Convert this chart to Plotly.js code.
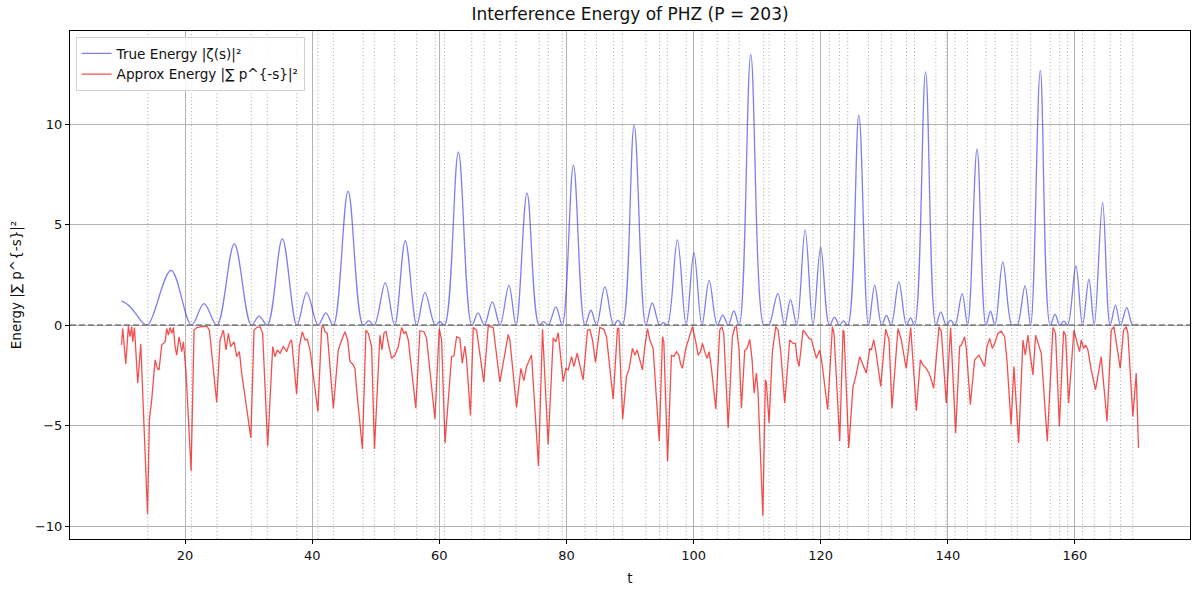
<!DOCTYPE html>
<html>
<head>
<meta charset="utf-8">
<script src="https://cdn.plot.ly/plotly-3.0.1.min.js"></script>
<style>
  html, body { margin: 0; padding: 0; background: #fff; }
  #plot { width: 1200px; height: 593px; }
</style>
</head>
<body>
<div id="plot"></div>
<script>
// zeta zeros marked by the dotted lines
var zeros = [14.1347, 21.0220, 25.0109, 30.4249, 32.9351, 37.5862, 40.9187, 43.3271,
  48.0052, 49.7738, 52.9703, 56.4462, 59.3470, 60.8318, 65.1125, 67.0798, 69.5464,
  72.0672, 75.7047, 77.1448, 79.3374, 82.9104, 84.7355, 87.4253, 88.8091, 92.4919,
  94.6513, 95.8706, 98.8312, 101.3179, 103.7255, 105.4466, 107.1686, 111.0295,
  111.8747, 114.3202, 116.2267, 118.7908, 121.3701, 122.9468, 124.2568, 127.5167,
  129.5787, 131.0877, 133.4977, 134.7565, 138.1160, 139.7362, 141.1237, 143.1118,
  146.0010, 147.4228, 150.0535, 150.9253, 153.0247, 156.1129, 157.5976, 158.8500,
  161.1890, 163.0307, 165.5371, 167.1844, 169.0945];

// true energy |zeta(s)|^2 (peaks and touch points)
var trueT = [10.0, 10.57, 11.35, 12.4, 13.19, 14.13, 17.8, 21.02, 22.98, 25.01, 27.75, 30.42,
  31.65, 32.94, 35.3, 37.59, 39.15, 40.92, 42.15, 43.33, 45.65, 48.01, 48.9, 49.77,
  51.5, 52.97, 54.65, 56.45, 57.75, 59.35, 60.1, 60.83, 63.0, 65.11, 66.1, 67.08,
  68.35, 69.55, 70.95, 72.07, 73.8, 75.7, 76.42, 77.14, 78.35, 79.34, 81.1, 82.91,
  83.85, 84.74, 86.05, 87.43, 88.12, 88.81, 90.65, 92.49, 93.5, 94.65, 95.27, 95.87,
  97.45, 98.83, 100.05, 101.32, 102.45, 103.73, 104.6, 105.45, 106.35, 107.17,
  109.0, 111.03, 111.45, 111.87, 113.25, 114.32, 115.25, 116.23, 117.55, 118.79,
  120.0, 121.37, 122.17, 122.95, 123.62, 124.26, 126.0, 127.52, 128.5, 129.58,
  130.35, 131.09, 132.3, 133.5, 134.13, 134.76, 136.5, 138.12, 138.9, 139.74,
  140.43, 141.12, 142.25, 143.11, 144.6, 146.0, 146.72, 147.42, 148.65, 150.05,
  150.5, 150.93, 152.15, 153.02, 154.55, 156.11, 156.87, 157.6, 158.27, 158.85,
  160.15, 161.19, 162.2, 163.03, 164.35, 165.54, 166.38, 167.18, 168.15, 169.09, 170.0];
var trueE = [1.19, 1.11, 0.91, 0.5, 0.17, 0, 2.72, 0, 1.07, 0, 4.04, 0,
  0.45, 0, 4.29, 0, 1.62, 0, 0.61, 0, 6.65, 0, 0.21, 0,
  2.1, 0, 4.2, 0, 1.62, 0, 0.17, 0, 8.6, 0, 0.61, 0,
  1.16, 0, 1.98, 0, 6.57, 0, 0.17, 0, 0.91, 0, 7.95, 0,
  0.74, 0, 1.9, 0, 0.25, 0, 9.95, 0, 1.1, 0, 0.12, 0,
  4.24, 0, 3.6, 0, 2.23, 0, 0.5, 0, 0.71, 0,
  13.45, 0, 0.03, 0, 1.57, 0, 1.27, 0, 4.74, 0,
  3.88, 0, 0.38, 0, 0.21, 0, 10.45, 0, 1.98, 0,
  0.48, 0, 2.15, 0, 0.36, 0, 12.6, 0, 0.66, 0,
  0.25, 0, 1.57, 0, 8.75, 0, 0.69, 0, 3.14, 0,
  0.03, 0, 1.95, 0, 12.67, 0, 0.53, 0, 0.2, 0,
  2.94, 0, 2.28, 0, 6.1, 0, 0.99, 0, 0.87, 0, 0.05];

// approximate energy (drawn negative)
var approxT = [10.0, 10.2, 10.67, 11.09, 11.35, 11.62, 11.77, 12.04, 12.56, 13.03, 14.1, 14.39,
  14.76, 15.29, 15.65, 15.91, 16.33, 16.86, 17.12, 17.38, 17.64, 17.91, 18.17, 18.43,
  18.69, 19.06, 19.48, 19.74, 20.16, 20.95, 21.42, 21.84, 22.62, 23.41, 23.83, 24.46,
  24.98, 25.51, 26.03, 26.45, 26.82, 27.18, 27.71, 28.13, 28.55, 28.91, 30.35, 30.85,
  31.27, 31.8, 32.21, 33.0, 33.79, 34.15, 34.52, 34.94, 35.46, 35.99, 36.51, 36.77,
  37.55, 37.98, 38.45, 38.87, 39.24, 39.66, 40.9, 41.49, 41.75, 42.02, 42.38, 43.33,
  44.11, 44.64, 45.16, 45.58, 45.95, 46.37, 46.73, 47.0, 47.9, 48.46, 48.83, 49.35,
  49.8, 50.66, 50.98, 51.29, 51.61, 51.97, 52.5, 53.02, 53.55, 54.07, 54.44, 54.75,
  55.12, 56.3, 56.95, 57.58, 58.0, 59.31, 59.99, 60.36, 60.9, 61.93, 62.3, 62.72,
  63.24, 63.61, 64.03, 64.29, 64.9, 65.34, 65.86, 67.0, 67.7, 68.48, 69.53, 70.84,
  71.1, 72.15, 72.83, 73.3, 73.72, 74.51, 75.6, 76.24, 77.13, 77.92, 78.34, 78.7,
  79.49, 79.91, 80.28, 80.8, 81.17, 81.69, 82.11, 82.63, 83.32, 83.68, 84.1, 84.57,
  85.25, 85.88, 86.3, 87.35, 88.03, 88.24, 88.85, 89.45, 89.87, 90.39, 90.76, 91.13,
  91.54, 91.96, 92.33, 92.75, 93.12, 93.64, 94.6, 95.11, 95.32, 95.92, 96.52, 96.89,
  97.31, 97.68, 97.94, 98.25, 98.78, 99.3, 99.83, 100.35, 100.72, 101.08, 101.4, 101.76,
  102.13, 102.45, 102.81, 103.5, 104.12, 104.44, 104.75, 105.45, 106.11, 106.48, 106.74, 107.16,
  107.53, 108.05, 108.42, 108.84, 109.21, 109.52, 109.89, 110.15, 110.9, 111.3, 111.46, 111.88,
  112.4, 112.93, 113.3, 113.71, 114.34, 115.13, 115.65, 116.02, 116.28, 116.6, 117.23, 117.65,
  118.17, 118.54, 119.06, 119.32, 119.85, 120.21, 121.1, 121.84, 122.1, 122.99, 123.52, 123.67,
  124.41, 125.09, 125.51, 126.14, 126.66, 127.18, 127.71, 127.97, 128.34, 128.65, 129.45, 130.22,
  130.75, 131.22, 132.16, 132.69, 133.21, 133.47, 134.16, 135.05, 135.68, 136.09, 136.51, 137.04,
  137.4, 137.77, 138.61, 138.98, 139.76, 140.44, 141.23, 141.86, 142.12, 142.65, 142.91, 143.54,
  144.22, 144.48, 144.9, 145.27, 145.79, 146.16, 146.58, 147.0, 147.36, 147.89, 148.41, 148.94,
  149.3, 149.95, 150.4, 151.14, 151.82, 152.19, 152.6, 152.97, 153.39, 153.81, 154.23, 154.7,
  155.65, 156.54, 156.95, 157.55, 158.21, 158.53, 159.0, 159.84, 160.31, 160.73, 160.99, 161.36,
  161.67, 162.04, 162.56, 163.24, 164.13, 165.05, 165.71, 166.13, 166.49, 167.12, 167.65, 168.07,
  168.33, 169.11, 169.64, 170.0];
var approxE = [-0.99, -0.17, -1.93, -0.05, -0.58, -0.08, -0.83, -0.12, -2.89, -0.94, -9.41, -4.7,
  -3.71, -1.73, -2.15, -2.23, -0.99, -0.83, -0.17, -0.5, -0.12, -0.41, -0.12, -1.07,
  -1.49, -0.58, -1.32, -0.83, -2.39, -7.26, -0.25, -0.12, -0.08, -0.05, -0.25, -2.06,
  -3.85, -0.74, -0.25, -1.24, -0.41, -1.07, -0.83, -1.57, -1.32, -2.39, -5.61, -0.25,
  -0.12, -0.08, -0.41, -6.02, -1.07, -1.57, -1.24, -1.4, -1.07, -1.32, -0.83, -0.74,
  -3.42, -1.07, -0.33, -0.74, -0.71, -1.24, -4.29, -0.12, -0.05, -0.33, -0.41, -4.13,
  -1.24, -0.74, -0.33, -0.74, -1.82, -1.93, -2.15, -3.22, -6.16, -0.25, -0.41, -1.07,
  -6.16, -0.5, -1.24, -0.41, -0.3, -0.91, -1.65, -1.49, -1.07, -0.12, -0.41, -0.33,
  -0.74, -4.13, -0.28, -0.33, -0.66, -4.67, -0.17, -0.74, -5.86, -1.57, -1.53, -0.58,
  -0.66, -1.9, -1.04, -1.73, -4.5, -0.12, -0.25, -2.84, -0.05, -0.12, -2.84, -0.46,
  -0.74, -4.09, -2.15, -2.76, -2.06, -1.49, -7.01, -0.21, -5.94, -0.63, -0.83, -0.38,
  -2.81, -2.15, -2.23, -1.57, -2.06, -1.4, -1.98, -2.72, -0.25, -0.21, -0.74, -1.86,
  -0.12, -0.21, -0.58, -3.68, -0.17, -0.17, -4.67, -2.56, -2.15, -1.16, -1.49, -1.24,
  -1.73, -2.23, -1.07, -0.17, -0.74, -1.16, -5.78, -0.58, -0.83, -6.77, -1.49, -1.57,
  -1.32, -1.49, -1.9, -2.15, -1.16, -0.58, -0.08, -0.83, -1.49, -1.32, -0.91, -1.32,
  -1.65, -1.32, -2.15, -4.17, -0.25, -0.08, -0.41, -5.12, -0.58, -0.12, -0.08, -1.24,
  -4.13, -1.27, -1.16, -0.71, -1.73, -3.38, -2.39, -3.38, -9.49, -2.72, -2.89, -4.87,
  -1.32, -0.08, -0.25, -1.32, -3.88, -0.74, -0.91, -0.91, -1.65, -2.06, -0.25, -0.41,
  -0.66, -0.71, -1.32, -1.65, -1.24, -1.9, -4.21, -0.08, -0.41, -5.78, -0.25, -0.33,
  -6.11, -3.05, -2.56, -1.57, -1.98, -2.39, -1.16, -1.24, -0.74, -1.24, -3.05, -0.2,
  -0.74, -4.13, -0.17, -0.74, -1.73, -2.15, -0.12, -4.26, -1.73, -1.98, -2.1, -2.39,
  -2.72, -3.14, -0.08, -0.33, -3.88, -0.12, -5.36, -1.07, -0.99, -0.58, -1.16, -3.96,
  -1.73, -1.65, -1.49, -1.73, -2.06, -1.07, -0.66, -1.16, -0.91, -0.41, -0.3, -0.58,
  -1.73, -4.95, -2.06, -5.86, -0.74, -1.49, -0.5, -1.49, -2.48, -0.5, -0.99, -1.4,
  -5.78, -0.12, -0.41, -5.03, -0.3, -0.5, -3.88, -0.25, -0.83, -1.32, -0.74, -1.16,
  -0.99, -1.24, -2.23, -3.22, -1.57, -4.79, -0.25, -0.08, -0.83, -2.15, -0.25, -0.08,
  -0.41, -4.54, -2.39, -6.11];

var xTicks = [20, 40, 60, 80, 100, 120, 140, 160];
var yTicks = [-10, -5, 0, 5, 10];

var font = '"DejaVu Sans", "Liberation Sans", sans-serif';

var plotlyData = [
  {
    type: 'scatter', mode: 'lines', name: 'True Energy |ζ(s)|²',
    x: trueT, y: trueE,
    line: {color: 'rgba(40,40,230,0.6)', width: 1.3, shape: 'spline', smoothing: 1}
  },
  {
    type: 'scatter', mode: 'lines', name: 'Approx Energy |∑ p^{-s}|²',
    x: approxT, y: approxE,
    line: {color: 'rgba(240,20,20,0.75)', width: 1.3}
  }
];

// dotted markers at the zeros, dashed zero line on top
var shapes = zeros.map(function (z) {
  return {
    type: 'line', xref: 'x', yref: 'paper', x0: z, x1: z, y0: 0, y1: 1,
    line: {color: 'rgba(140,140,140,0.75)', width: 1, dash: '1px,2.5px'}, layer: 'below'
  };
});
shapes.push({
  type: 'line', xref: 'paper', yref: 'y', x0: 0, x1: 1, y0: 0, y1: 0,
  line: {color: '#808080', width: 1.6, dash: '6px,3px'}, layer: 'above'
});

var layout = {
  width: 1200, height: 593,
  margin: {l: 70, r: 10, t: 31, b: 54},
  paper_bgcolor: '#fff', plot_bgcolor: '#fff',
  font: {family: font, size: 13, color: '#111'},
  title: {
    text: 'Interference Energy of PHZ (P = 203)',
    font: {family: font, size: 17, color: '#111'},
    x: 0.525, xanchor: 'center', y: 0.976, yanchor: 'middle'
  },
  showlegend: true,
  legend: {
    x: 0.005, y: 0.988, xanchor: 'left', yanchor: 'top',
    bgcolor: 'rgba(255,255,255,0.85)', bordercolor: '#d0d0d0', borderwidth: 1,
    font: {family: font, size: 13.6, color: '#111'},
    tracegroupgap: 0
  },
  xaxis: {
    range: [1.9, 178.1],
    tickvals: xTicks,
    ticks: 'outside', ticklen: 4, tickcolor: '#000',
    tickfont: {family: font, size: 13, color: '#111'},
    showgrid: true, gridcolor: '#b3b3b3', gridwidth: 1,
    zeroline: false,
    showline: true, mirror: true, linecolor: '#000', linewidth: 1,
    title: {text: 't', font: {family: font, size: 13.5, color: '#111'}, standoff: 11}
  },
  yaxis: {
    range: [-10.64, 14.63],
    tickvals: yTicks,
    ticks: 'outside', ticklen: 4, tickcolor: '#000',
    tickfont: {family: font, size: 13, color: '#111'},
    showgrid: true, gridcolor: '#b3b3b3', gridwidth: 1,
    zeroline: false,
    showline: true, mirror: true, linecolor: '#000', linewidth: 1,
    title: {text: 'Energy |∑ p^{-s}|²', font: {family: font, size: 13.5, color: '#111'}, standoff: 10}
  },
  shapes: shapes
};

Plotly.newPlot(document.getElementById('plot'), plotlyData, layout, {staticPlot: true, displayModeBar: false});
</script>
</body>
</html>
